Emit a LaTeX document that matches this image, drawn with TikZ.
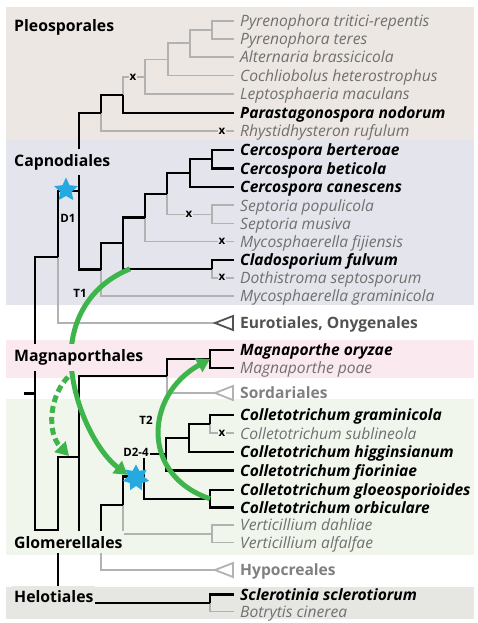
\documentclass[tikz,border=0pt]{standalone}
\usepackage{fontspec}
\setmainfont{Open Sans}
\usepackage{xcolor}
\definecolor{pleoband}{RGB}{236,231,226}
\definecolor{capnoband}{RGB}{228,228,236}
\definecolor{magnaband}{RGB}{250,233,239}
\definecolor{glomband}{RGB}{240,246,236}
\definecolor{heloband}{RGB}{230,230,226}
\definecolor{treegray}{RGB}{178,178,178}
\definecolor{taxgray}{RGB}{112,112,112}
\definecolor{cladegray}{RGB}{128,128,128}
\definecolor{eurogray}{RGB}{82,82,82}
\definecolor{hgtgreen}{RGB}{61,181,74}
\definecolor{dupblue}{RGB}{38,169,224}
\usepackage{tikz}
\usetikzlibrary{arrows.meta, shapes.geometric}

\begin{document}
\begin{tikzpicture}[x=1pt, y=-1pt,
    tb/.style={line width=2.3pt, black},
    tg/.style={line width=1.8pt, treegray},
    taxb/.style={anchor=west, inner xsep=6pt, text height=11.5pt, text depth=0pt, font=\fontsize{15.6}{16}\selectfont\bfseries\itshape},
    taxg/.style={anchor=west, inner xsep=6pt, text height=11.5pt, text depth=0pt, font=\fontsize{15.6}{16}\selectfont\itshape, text=taxgray},
    clade/.style={anchor=west, inner xsep=6pt, text height=11.5pt, text depth=0pt, font=\fontsize{15.6}{16}\selectfont\bfseries, text=#1},
    order/.style={anchor=base west, inner xsep=2pt, inner ysep=5pt, font=\fontsize{15.8}{17}\selectfont\bfseries, fill=#1},
    event/.style={font=\fontsize{11.5}{12}\selectfont\bfseries, inner sep=1pt},
    xmark/.style={font=\fontsize{11.5}{12}\selectfont\bfseries, inner sep=0.8pt, fill=#1},
    tri/.style={line width=1.8pt, draw=#1, fill=white},
    hgt/.style={line width=5pt, hgtgreen, -{Triangle[length=13pt,width=15pt]}},
    dupstar/.style={star, fill=dupblue, inner sep=0pt, minimum size=#1}]
  \useasboundingbox (0,0) rectangle (477,623);

  % Bands
  \fill[pleoband] (6,7) rectangle (474,140);
  \fill[capnoband] (6,140) rectangle (474,305);
  \fill[magnaband] (6,340) rectangle (474,378);
  \fill[glomband] (6,399) rectangle (474,555);
  \fill[heloband] (6,587) rectangle (474,619);

  % Leaves
  \node[taxg] (ptr) at (234,20.7) {Pyrenophora tritici-repentis};
  \node[taxg] (pte) at (234,38.7) {Pyrenophora teres};
  \node[taxg] (alt) at (234,57) {Alternaria brassicicola};
  \node[taxg] (coc) at (234,75.5) {Cochliobolus heterostrophus};
  \node[taxg] (lep) at (234,94) {Leptosphaeria maculans};
  \node[taxb] (par) at (234,112.8) {Parastagonospora nodorum};
  \node[taxg] (rhy) at (234,131.2) {Rhystidhysteron rufulum};
  \node[taxb] (ber) at (234,150) {Cercospora berteroae};
  \node[taxb] (bet) at (234,168.5) {Cercospora beticola};
  \node[taxb] (can) at (234,187) {Cercospora canescens};
  \node[taxg] (pop) at (234,205.3) {Septoria populicola};
  \node[taxg] (mus) at (234,223.5) {Septoria musiva};
  \node[taxg] (fij) at (234,241.5) {Mycosphaerella fijiensis};
  \node[taxb] (ful) at (234,260) {Cladosporium fulvum};
  \node[taxg] (dot) at (234,277.8) {Dothistroma septosporum};
  \node[taxg] (gra) at (234,296) {Mycosphaerella graminicola};
  \node[clade=eurogray] (eur) at (234,323) {Eurotiales, Onygenales};
  \node[taxb] (ory) at (234,350) {Magnaporthe oryzae};
  \node[taxg] (poa) at (234,368) {Magnaporthe poae};
  \node[clade=cladegray] (sor) at (234,393) {Sordariales};
  \node[taxb] (grm) at (234,415) {Colletotrichum graminicola};
  \node[taxg] (sub) at (234,433.3) {Colletotrichum sublineola};
  \node[taxb] (hig) at (234,452) {Colletotrichum higginsianum};
  \node[taxb] (fio) at (234,470.5) {Colletotrichum fioriniae};
  \node[taxb] (glo) at (234,490) {Colletotrichum gloeosporioides};
  \node[taxb] (orb) at (234,507.5) {Colletotrichum orbiculare};
  \node[taxg] (dah) at (234,525) {Verticillium dahliae};
  \node[taxg] (alf) at (234,542.5) {Verticillium alfalfae};
  \node[clade=cladegray] (hyp) at (234,570) {Hypocreales};
  \node[taxb] (scl) at (234,594.5) {Sclerotinia sclerotiorum};
  \node[taxg] (bot) at (234,611.5) {Botrytis cinerea};

  % Inner nodes
  \coordinate (nPyr) at (212,29.7);
  \coordinate (nAlt) at (190,43.4);
  \coordinate (nCoc) at (168,59.5);
  \coordinate (nLep) at (145,76.8);
  \coordinate (nPar) at (123,94.8);
  \coordinate (nRhy) at (101,113);
  \coordinate (nCer) at (212,159.3);
  \coordinate (nCan) at (190,173.2);
  \coordinate (nSep) at (212,214.4);
  \coordinate (nW) at (167,193.8);
  \coordinate (nV) at (145,217.6);
  \coordinate (nClad) at (212,268.9);
  \coordinate (nU) at (123,243.3);
  \coordinate (nT) at (101,269.6);
  \coordinate (nG) at (79,191.3);
  \coordinate (nH) at (58,257.2);
  \coordinate (nMag) at (210,359);
  \coordinate (nJ) at (167,376);
  \coordinate (nGram) at (210,424.2);
  \coordinate (nR) at (189,438.1);
  \coordinate (nQ) at (166,454.3);
  \coordinate (nGlo) at (210,498.8);
  \coordinate (nP) at (144,476.5);
  \coordinate (nVer) at (212,533.8);
  \coordinate (nO) at (123,505.2);
  \coordinate (nM) at (101,537.6);
  \coordinate (nL) at (79,456.8);
  \coordinate (nHel) at (210,603);
  \coordinate (nK) at (58,529.9);
  \coordinate (nI) at (35,393.5);
  \coordinate (root) at (24,393.5);
  \coordinate (eurTip) at (215,323);
  \coordinate (sorTip) at (215,393);
  \coordinate (hypTip) at (215,570);

  % Grey branches
  \draw[tg] (nPyr) |- (ptr.west);
  \draw[tg] (nPyr) |- (pte.west);
  \draw[tg] (nAlt) |- (nPyr);
  \draw[tg] (nAlt) |- (alt.west);
  \draw[tg] (nCoc) |- (nAlt);
  \draw[tg] (nCoc) |- (coc.west);
  \draw[tg] (nLep) |- (nCoc);
  \draw[tg] (nLep) |- (lep.west);
  \draw[tg] (nPar) |- (nLep);
  \draw[tg] (nRhy) |- (rhy.west);
  \draw[tg] (nSep) |- (pop.west);
  \draw[tg] (nSep) |- (mus.west);
  \draw[tg] (nW) |- (nSep);
  \draw[tg] (nV) |- (fij.west);
  \draw[tg] (nClad) |- (dot.west);
  \draw[tg] (nT) |- (gra.west);
  \draw[tg] (nH) |- (eurTip);
  \draw[tg] (nJ) |- (sorTip);
  \draw[tg] (nGram) |- (sub.west);
  \draw[tg] (nVer) |- (dah.west);
  \draw[tg] (nVer) |- (alf.west);
  \draw[tg] (nO) |- (nVer);
  \draw[tg] (nM) |- (hypTip);
  \draw[tg] (nHel) |- (bot.west);

  % Black branches
  \draw[tb] (nPar) |- (par.west);
  \draw[tb] (nRhy) |- (nPar);
  \draw[tb] (nG) |- (nRhy);
  \draw[tb] (nCer) |- (ber.west);
  \draw[tb] (nCer) |- (bet.west);
  \draw[tb] (nCan) |- (nCer);
  \draw[tb] (nCan) |- (can.west);
  \draw[tb] (nW) |- (nCan);
  \draw[tb] (nV) |- (nW);
  \draw[tb] (nClad) |- (ful.west);
  \draw[tb] (nU) |- (nV);
  \draw[tb] (nU) |- (nClad);
  \draw[tb] (nT) |- (nU);
  \draw[tb] (nG) |- (nT);
  \draw[tb] (nH) |- (nG);
  \draw[tb] (nI) |- (nH);
  \draw[tb] (nMag) |- (ory.west);
  \draw[tb] (nMag) |- (poa.west);
  \draw[tb] (nJ) |- (nMag);
  \draw[tb] (nL) |- (nJ);
  \draw[tb] (nGram) |- (grm.west);
  \draw[tb] (nR) |- (nGram);
  \draw[tb] (nR) |- (hig.west);
  \draw[tb] (nQ) |- (nR);
  \draw[tb] (nQ) |- (fio.west);
  \draw[tb] (nGlo) |- (glo.west);
  \draw[tb] (nGlo) |- (orb.west);
  \draw[tb] (nP) |- (nQ);
  \draw[tb] (nP) |- (nGlo);
  \draw[tb] (nO) |- (nP);
  \draw[tb] (nM) |- (nO);
  \draw[tb] (nL) |- (nM);
  \draw[tb] (nK) |- (nL);
  \draw[tb] (nHel) |- (scl.west);
  \draw[tb] (nK) |- (nHel);
  \draw[tb] (nI) |- (nK);
  \draw[tb] (root) -- (nI);

  % Collapsed clades
  \draw[tri=eurogray] (eurTip) -- ++(18,-7) -- ++(0,14) -- cycle;
  \draw[tri=treegray] (sorTip) -- ++(18,-7) -- ++(0,14) -- cycle;
  \draw[tri=treegray] (hypTip) -- ++(18,-7) -- ++(0,14) -- cycle;

  % Duplications
  \node[dupstar=25pt, star points=5, star point ratio=2.1] (d1) at (66,190) {};
  \node[dupstar=27pt, star points=7, star point ratio=1.7] (d24) at (136,478) {};

  % Transfers
  \coordinate (t1from) at (130,268.9);
  \coordinate (t1mid) at (71,357);
  \draw[hgt] (t1from) .. controls (90,285) and (71,320) .. (t1mid)
    .. controls (71,400) and (95,450) .. (d24.160);
  \coordinate (dashfrom) at (68,377);
  \coordinate (dashto) at (69,456);
  \draw[hgt, dash pattern=on 7pt off 4pt] (dashfrom) .. controls (50,395) and (46,432) .. (dashto);
  \draw[hgt] (nGlo) .. controls (140,475) and (145,395) .. (nMag);

  % Event labels
  \node[event] (d1lab) at (68,218) {D1};
  \node[event] (t1lab) at (80,293.5) {T1};
  \node[event] (t2lab) at (146,420) {T2};
  \node[event, fill=glomband] (d24lab) at (136,452.5) {D2-4};

  % Lost genes
  \node[xmark=pleoband] (x1) at (133,77) {x};
  \node[xmark=pleoband] (x2) at (222,131.2) {x};
  \node[xmark=capnoband] (x3) at (189,214.4) {x};
  \node[xmark=capnoband] (x4) at (222,241.5) {x};
  \node[xmark=capnoband] (x5) at (222,277.8) {x};
  \node[xmark=glomband] (x6) at (222,433.3) {x};

  % Order labels
  \node[order=pleoband] (pleo) at (12,31.5) {Pleosporales};
  \node[order=capnoband] (capno) at (12,166) {Capnodiales};
  \node[order=magnaband, inner ysep=6pt] (magna) at (12,361.7) {Magnaporthales};
  \node[order=glomband] (glom) at (12,548.3) {Glomerellales};
  \node[order=heloband] (helo) at (12,602.7) {Helotiales};
\end{tikzpicture}
\end{document}
